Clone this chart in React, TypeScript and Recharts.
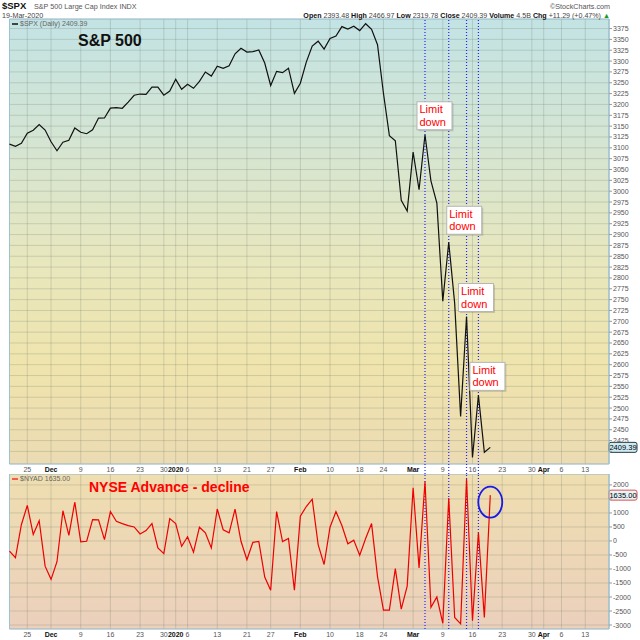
import {
  LineChart,
  Line,
  XAxis,
  YAxis,
  CartesianGrid,
  ReferenceLine,
  ReferenceDot,
  ReferenceArea,
} from 'recharts';

// trading days shown on the axis (Nov 20 2019 .. Apr 17 2020)
const NOV_2019 = [20, 21, 22, 25, 26, 27, 29];
const DEC_2019 = [2, 3, 4, 5, 6, 9, 10, 11, 12, 13, 16, 17, 18, 19, 20, 23, 24, 26, 27, 30, 31];
const JAN_2020 = [2, 3, 6, 7, 8, 9, 10, 13, 14, 15, 16, 17, 21, 22, 23, 24, 27, 28, 29, 30, 31];
const FEB_2020 = [3, 4, 5, 6, 7, 10, 11, 12, 13, 14, 18, 19, 20, 21, 24, 25, 26, 27, 28];
const MAR_2020 = [2, 3, 4, 5, 6, 9, 10, 11, 12, 13, 16, 17, 18, 19, 20, 23, 24, 25, 26, 27, 30, 31];
const APR_2020 = [1, 2, 3, 6, 7, 8, 9, 13, 14, 15, 16, 17];

const ymd = (y: number, m: number) => (d: number) =>
  `${y}-${String(m).padStart(2, '0')}-${String(d).padStart(2, '0')}`;

const DATES = [
  ...NOV_2019.map(ymd(2019, 11)),
  ...DEC_2019.map(ymd(2019, 12)),
  ...JAN_2020.map(ymd(2020, 1)),
  ...FEB_2020.map(ymd(2020, 2)),
  ...MAR_2020.map(ymd(2020, 3)),
  ...APR_2020.map(ymd(2020, 4)),
];

// $SPX daily close, Nov 20 .. Mar 19
const SPX_CLOSE = [
  3108.46, 3103.54, 3110.29, 3133.64, 3140.52, 3153.63, 3140.98,
  3113.87, 3093.2, 3112.76, 3117.43, 3145.91, 3135.96, 3132.52, 3141.63, 3168.57, 3168.8,
  3191.45, 3192.52, 3191.14, 3205.37, 3221.22, 3224.01, 3223.38, 3239.91, 3240.02, 3221.29, 3230.78,
  3257.85, 3234.85, 3246.28, 3237.18, 3253.05, 3274.7, 3265.35, 3288.13, 3283.15, 3289.29, 3316.81,
  3329.62, 3320.79, 3321.75, 3325.54, 3295.47, 3243.63, 3276.24, 3273.4, 3283.66, 3225.52,
  3248.92, 3297.59, 3334.69, 3345.78, 3327.71, 3352.09, 3357.75, 3379.45, 3373.94, 3380.16,
  3370.29, 3386.15, 3373.23, 3337.75, 3225.89, 3128.21, 3116.39, 2978.76, 2954.22,
  3090.23, 3003.37, 3130.12, 3023.94, 2972.37, 2746.56, 2882.23, 2741.38, 2480.64, 2711.02,
  2386.13, 2529.19, 2398.1, 2409.39,
];

// $NYAD daily advance - decline
const NYAD = [
  -365, -600, 580, 1270, 230, 720, -900,
  -1370, -740, 1080, 200, 1390, -30, -10, 760, 750, 50,
  1050, 700, 620, 550, 500, 250, 370, 620, -250, -450, 800,
  620, -190, 150, -400, 490, 290, -250, 1140, 400, 290, 1140,
  -10, -670, -50, -20, -1290, -1760, 1050, -20, 90, -1760,
  880, 1230, 1490, -130, -840, 490, 1050, 550, -100, 30,
  -510, 90, 620, -1270, -2470, -2470, -990, -2430, -1610,
  1900, -960, 2120, -2370, -2000, -2940, 1530, -2730, -2960, 2210,
  -2850, 300, -2730, 1635,
];

const TICK_DATES = [
  '2019-11-25', '2019-12-02', '2019-12-09', '2019-12-16', '2019-12-23', '2019-12-30',
  '2020-01-02', '2020-01-06', '2020-01-13', '2020-01-21', '2020-01-27', '2020-02-03',
  '2020-02-10', '2020-02-18', '2020-02-24', '2020-03-02', '2020-03-09', '2020-03-16',
  '2020-03-23', '2020-03-30', '2020-04-01', '2020-04-06', '2020-04-13',
];
const TICK_LABELS = [
  '25', 'Dec', '9', '16', '23', '30', '2020', '6', '13', '21', '27', 'Feb',
  '10', '18', '24', 'Mar', '9', '16', '23', '30', 'Apr', '6', '13',
];
const BOLD_LABELS = ['Dec', '2020', 'Feb', 'Mar', 'Apr'];

const SPX_TICKS = [
  2400, 2425, 2450, 2475, 2500, 2525, 2550, 2575, 2600, 2625, 2650, 2675, 2700, 2725,
  2750, 2775, 2800, 2825, 2850, 2875, 2900, 2925, 2950, 2975, 3000, 3025, 3050, 3075,
  3100, 3125, 3150, 3175, 3200, 3225, 3250, 3275, 3300, 3325, 3350, 3375,
];
const NYAD_TICKS = [-3000, -2500, -2000, -1500, -1000, -500, 0, 500, 1000, 1500, 2000];

// days marked with the dotted lines / "Limit down" notes
const LIMIT_DATES = ['2020-03-04', '2020-03-10', '2020-03-13', '2020-03-17'];
const LIMIT_DX = [-8, -2, -8, -8.5];
const LIMIT_GAP = [5, 8, 5, 5];

const data = DATES.map((d, i) => ({
  d,
  spx: i < SPX_CLOSE.length ? SPX_CLOSE[i] : null,
  nyad: i < NYAD.length ? NYAD[i] : null,
}));

const spxAt = (d: string) => SPX_CLOSE[DATES.indexOf(d)];
const SPX_LAST = SPX_CLOSE[SPX_CLOSE.length - 1];
const NYAD_LAST = NYAD[NYAD.length - 1];
const LAST_DATE = DATES[SPX_CLOSE.length - 1];

const SPX_DOMAIN = [2371, 3397];
const NYAD_DOMAIN = [-3142, 2390];

const FONT = '"Liberation Sans", Arial, sans-serif';
const GRID = '#5f6f60';
const BORDER = '#9fc2d2';
const DOT_BLUE = '#2424ff';

function DateTick(props: any) {
  const { x, y, payload } = props;
  const label = TICK_LABELS[TICK_DATES.indexOf(payload.value)];
  const bold = BOLD_LABELS.includes(label);
  return (
    <text
      x={x}
      y={y + 7.5}
      textAnchor="middle"
      fontSize={7}
      fontWeight={bold ? 700 : 400}
      fill={bold ? '#111' : '#555'}
    >
      {label}
    </text>
  );
}

// price tick; the one sitting under the last-value box is covered by it
function PriceTick(props: any) {
  const { x, y, payload, covered } = props;
  if (payload.value === covered) return <g />;
  return (
    <text x={x} y={y + 2.5} fontSize={7} fill="#555">
      {payload.value}
    </text>
  );
}

function ValueBox(props: any) {
  const { viewBox, text, stroke, fill } = props;
  const x = viewBox.x + viewBox.width;
  const y = viewBox.y;
  return (
    <g>
      <rect x={x} y={y - 5} width={28} height={10} rx={2} fill={fill} stroke={stroke} />
      <text x={x + 14} y={y + 2.6} textAnchor="middle" fontSize={7.5} fill="#000">
        {text}
      </text>
    </g>
  );
}

function LimitBox({ cx, cy, dx, gap }: any) {
  const x = cx + dx;
  const y = cy - gap - 28;
  return (
    <g>
      <rect x={x + 1.5} y={y + 1.5} width={35} height={28} fill="#000" fillOpacity={0.15} />
      <rect x={x} y={y} width={35} height={28} fill="#fff" stroke="#b5b5b5" />
      <text x={x + 2.5} y={y + 11.7} fontSize={11} fill="#ff0000">Limit</text>
      <text x={x + 2.5} y={y + 24} fontSize={11} fill="#ff0000">down</text>
    </g>
  );
}

export default function App() {
  return (
    <div
      style={{
        position: 'absolute',
        left: 0,
        top: 0,
        width: 640,
        height: 640,
        background: '#fff',
        fontFamily: FONT,
      }}
    >
      <div style={{ position: 'absolute', left: 0, top: 0 }}>
        <LineChart width={640} height={474} data={data} margin={{ top: 19, right: 0, bottom: 0, left: 9.5 }}>
          <defs>
            <linearGradient id="gTop" x1="0" y1="0" x2="0" y2="1">
              <stop offset="0%" stopColor="#c3e3e4" />
              <stop offset="30%" stopColor="#d6e5d1" />
              <stop offset="55%" stopColor="#e8e7bd" />
              <stop offset="78%" stopColor="#efe4ad" />
              <stop offset="100%" stopColor="#ecdbb3" />
            </linearGradient>
          </defs>
          <CartesianGrid fill="url(#gTop)" fillOpacity={1} stroke={GRID} strokeOpacity={0.22} />
          <XAxis
            dataKey="d"
            ticks={TICK_DATES}
            interval={0}
            tick={<DateTick />}
            tickLine={false}
            axisLine={false}
            tickSize={0}
            tickMargin={0}
            height={10}
          />
          <YAxis
            orientation="right"
            width={31}
            domain={SPX_DOMAIN}
            allowDataOverflow
            ticks={SPX_TICKS}
            interval={0}
            tick={<PriceTick covered={2400} />}
            tickSize={3}
            tickMargin={1}
            axisLine={{ stroke: BORDER }}
            tickLine={{ stroke: '#999' }}
          />
          <ReferenceArea
            x1={DATES[0]}
            x2={DATES[DATES.length - 1]}
            fill="none"
            stroke={BORDER}
            ifOverflow="visible"
          />
          {LIMIT_DATES.map((d) => (
            <ReferenceLine
              key={d}
              segment={[{ x: d, y: 2348 }, { x: d, y: SPX_DOMAIN[1] }]}
              ifOverflow="visible"
              stroke={DOT_BLUE}
              strokeDasharray="1 2"
              strokeWidth={1.2}
            />
          ))}
          <Line
            type="linear"
            dataKey="spx"
            stroke="#111"
            strokeWidth={1.2}
            dot={false}
            isAnimationActive={false}
          />
          {LIMIT_DATES.map((d, k) => (
            <ReferenceDot
              key={'ld' + d}
              x={d}
              y={spxAt(d)}
              r={0}
              shape={(p: any) => <LimitBox cx={p.cx} cy={p.cy} dx={LIMIT_DX[k]} gap={LIMIT_GAP[k]} />}
            />
          ))}
          <ReferenceLine
            y={SPX_LAST}
            stroke="none"
            label={<ValueBox text={SPX_LAST.toFixed(2)} stroke="#2a3a44" fill="#cdebf3" />}
          />
        </LineChart>
      </div>

      <div style={{ position: 'absolute', left: 0, top: 474 }}>
        <LineChart width={640} height={166} data={data} margin={{ top: 0, right: 0, bottom: 0, left: 9.5 }}>
          <defs>
            <linearGradient id="gBot" x1="0" y1="0" x2="0" y2="1">
              <stop offset="0%" stopColor="#efdeb0" />
              <stop offset="100%" stopColor="#ebd0bc" />
            </linearGradient>
          </defs>
          <CartesianGrid fill="url(#gBot)" fillOpacity={1} stroke={GRID} strokeOpacity={0.22} />
          <XAxis
            dataKey="d"
            ticks={TICK_DATES}
            interval={0}
            tick={<DateTick />}
            tickLine={false}
            axisLine={false}
            tickSize={0}
            tickMargin={0}
            height={11}
          />
          <YAxis
            orientation="right"
            width={31}
            domain={NYAD_DOMAIN}
            allowDataOverflow
            ticks={NYAD_TICKS}
            interval={0}
            tick={<PriceTick covered={1500} />}
            tickSize={3}
            tickMargin={1}
            axisLine={{ stroke: BORDER }}
            tickLine={{ stroke: '#999' }}
          />
          <ReferenceArea
            x1={DATES[0]}
            x2={DATES[DATES.length - 1]}
            fill="none"
            stroke={BORDER}
            ifOverflow="visible"
          />
          {LIMIT_DATES.map((d) => (
            <ReferenceLine key={d} x={d} stroke={DOT_BLUE} strokeDasharray="1 2" strokeWidth={1.2} />
          ))}
          <Line
            type="linear"
            dataKey="nyad"
            stroke="#ee0000"
            strokeWidth={1.2}
            dot={false}
            isAnimationActive={false}
          />
          <ReferenceDot
            x={LAST_DATE}
            y={NYAD_LAST}
            r={0}
            shape={(p: any) => (
              <ellipse cx={p.cx} cy={p.cy + 7} rx={12} ry={15.5} fill="none" stroke="#1a1ae6" strokeWidth={1.8} />
            )}
          />
          <ReferenceLine
            y={NYAD_LAST}
            stroke="none"
            label={<ValueBox text={NYAD_LAST.toFixed(2)} stroke="#e05050" fill="#e4f4f8" />}
          />
        </LineChart>
      </div>

      <svg
        width={640}
        height={640}
        style={{ position: 'absolute', left: 0, top: 0, pointerEvents: 'none' }}
      >
        <text x={2} y={8.5} fontSize={9.5} fontWeight={700} fill="#111">$SPX</text>
        <text x={34} y={8.5} fontSize={7.2} fill="#555">S&amp;P 500 Large Cap Index INDX</text>
        <text x={2} y={18} fontSize={7.2} fill="#444">19-Mar-2020</text>
        <text x={610} y={8.5} fontSize={7.2} fill="#555" textAnchor="end">©StockCharts.com</text>
        <text x={610} y={18} fontSize={7.1} fill="#444" textAnchor="end">
          <tspan fontWeight={700} fill="#111">Open</tspan> 2393.48{' '}
          <tspan fontWeight={700} fill="#111">High</tspan> 2466.97{' '}
          <tspan fontWeight={700} fill="#111">Low</tspan> 2319.78{' '}
          <tspan fontWeight={700} fill="#111">Close</tspan> 2409.39{' '}
          <tspan fontWeight={700} fill="#111">Volume</tspan> 4.5B{' '}
          <tspan fontWeight={700} fill="#111">Chg</tspan> +11.29 (+0.47%){' '}
          <tspan fill="#1a9a1a">▲</tspan>
        </text>

        <line x1={12} x2={18} y1={24} y2={24} stroke="#111" strokeWidth={1.5} />
        <text x={20} y={26.3} fontSize={7} fill="#666">$SPX (Daily) 2409.39</text>
        <text x={78} y={46} fontSize={16} fontWeight={700} fill="#111">S&amp;P 500</text>

        <line x1={12} x2={18} y1={479} y2={479} stroke="#ee3333" strokeWidth={1.5} />
        <text x={20} y={481} fontSize={7} fill="#666">$NYAD 1635.00</text>
        <text x={89} y={492} fontSize={14} fontWeight={700} fill="#ff0000">NYSE Advance - decline</text>
      </svg>
    </div>
  );
}
